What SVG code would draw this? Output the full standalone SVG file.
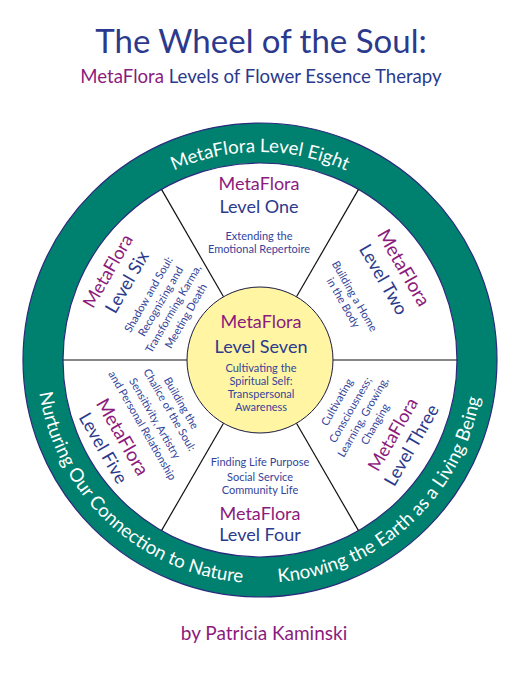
<svg xmlns="http://www.w3.org/2000/svg" width="520" height="674" viewBox="0 0 520 674">
<style>
text { font-family: Lato, "Open Sans", sans-serif; text-anchor: middle; }
.t { fill: #2b3a8c; }
.m { fill: #8b1b7d; }
.big { font-size: 18px; }
.big2 { font-size: 19px; }
.sm { font-size: 11px; fill: #34449a; }
.ring { fill: #ffffff; font-size: 18.7px; }
.div { stroke: #111111; stroke-width: 1.2; }
</style>
<defs>
<path id="topArc" d="M52,360 A208,208 0 0 1 468,360"/>
<path id="botArc" d="M37,360 A223,223 0 0 0 483,360"/>
</defs>
<rect width="520" height="674" fill="#ffffff"/>
<g id="title">
<text x="261" y="53" font-size="33" class="t">The Wheel of the Soul:</text>
<text x="261" y="83" font-size="18.6" class="t"><tspan class="m">MetaFlora</tspan> Levels of Flower Essence Therapy</text>
</g>
<g id="level-eight">
<circle cx="260" cy="360" r="237" fill="#00806e" stroke="#2a2b7c" stroke-width="1.2"/>
<circle cx="260" cy="360" r="197" fill="#ffffff" stroke="#2a2b7c" stroke-width="1.2"/>
<text class="ring"><textPath href="#topArc" startOffset="50%">MetaFlora Level Eight</textPath></text>
<text class="ring"><textPath href="#botArc" startOffset="26.1%">Nurturing Our Connection to Nature</textPath></text>
<text class="ring"><textPath href="#botArc" startOffset="73.6%">Knowing the Earth as a Living Being</textPath></text>
</g>
<g id="connectors">
<line class="div" x1="333" y1="360" x2="457" y2="360"/>
<line class="div" x1="187" y1="360" x2="63" y2="360"/>
<line class="div" x1="296.5" y1="296.8" x2="358.5" y2="189.4"/>
<line class="div" x1="223.5" y1="296.8" x2="161.5" y2="189.4"/>
<line class="div" x1="223.5" y1="423.2" x2="161.5" y2="530.6"/>
<line class="div" x1="296.5" y1="423.2" x2="358.5" y2="530.6"/>
</g>
<g id="level-one">
<text x="259" y="190" class="m big">MetaFlora</text>
<text x="259" y="213" class="t big">Level One</text>
<text x="259" y="240" class="sm">Extending the</text>
<text x="259" y="253" class="sm">Emotional Repertoire</text>
</g>
<g id="level-two" transform="rotate(60 260 360)">
<text x="252" y="196" class="m big2">MetaFlora</text>
<text x="252" y="219" class="t big">Level Two</text>
<text x="252" y="250" class="sm">Building a Home</text>
<text x="252" y="263" class="sm">in the Body</text>
</g>
<g id="level-three" transform="rotate(-60 260 360)">
<text x="262" y="451.5" class="sm">Cultivating</text>
<text x="262" y="467" class="sm">Consciousness;</text>
<text x="262" y="481.5" class="sm">Learning, Growing,</text>
<text x="262" y="495.5" class="sm">Changing</text>
<text x="262" y="518.5" class="m big">MetaFlora</text>
<text x="262" y="540" class="t big">Level Three</text>
</g>
<g id="level-four">
<text x="260" y="466" class="sm">Finding Life Purpose</text>
<text x="260" y="481" class="sm">Social Service</text>
<text x="260" y="494" class="sm">Community Life</text>
<text x="260" y="520" class="m big">MetaFlora</text>
<text x="260" y="541" class="t big">Level Four</text>
</g>
<g id="level-five" transform="rotate(60 260 360)">
<text x="258" y="453.5" class="sm">Building the</text>
<text x="258" y="467" class="sm">Chalice of the Soul:</text>
<text x="258" y="484" class="sm">Sensitivity, Artistry</text>
<text x="258" y="498.5" class="sm">and Personal Relationship</text>
<text x="258" y="524" class="m big2">MetaFlora</text>
<text x="258" y="546" class="t big">Level Five</text>
</g>
<g id="level-six" transform="rotate(-60 260 360)">
<text x="261" y="190" class="m big">MetaFlora</text>
<text x="261" y="212" class="t big">Level Six</text>
<text x="261" y="234.5" class="sm">Shadow and Soul:</text>
<text x="261" y="248.5" class="sm">Recognizing and</text>
<text x="261" y="263" class="sm">Transforming Karma,</text>
<text x="261" y="277.5" class="sm">Meeting Death</text>
</g>
<g id="level-seven">
<circle cx="260" cy="360" r="73" fill="#fff5a3" stroke="#1a1a40" stroke-width="1"/>
<text x="261" y="328" class="m big">MetaFlora</text>
<text x="261" y="353" class="t big">Level Seven</text>
<text x="261" y="372" class="sm">Cultivating the</text>
<text x="261" y="385" class="sm">Spiritual Self:</text>
<text x="261" y="398" class="sm">Transpersonal</text>
<text x="261" y="411" class="sm">Awareness</text>
</g>
<g id="byline">
<text x="264" y="640" font-size="19" class="m">by Patricia Kaminski</text>
</g>
</svg>
